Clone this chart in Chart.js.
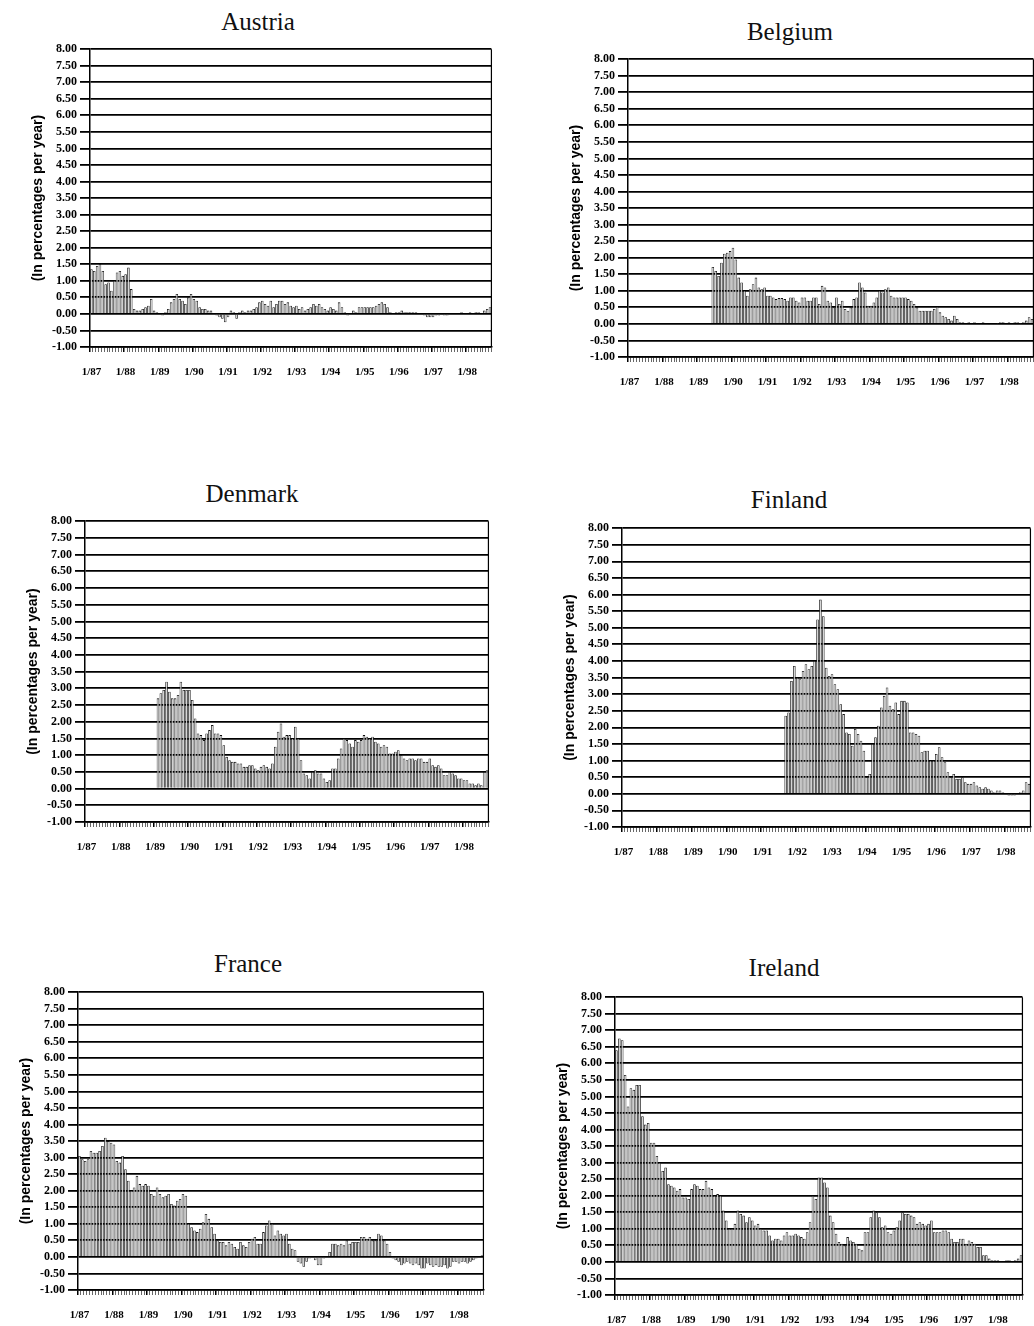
<!DOCTYPE html>
<html>
<head>
<meta charset="utf-8">
<script src="https://cdn.jsdelivr.net/npm/chart.js@4.4.1/dist/chart.umd.min.js"></script>
<style>
  body { margin: 0; background: #fff; }
  #page { position: relative; width: 1034px; height: 1326px; overflow: hidden; background: #fff; }
  .panel { position: absolute; }
  .title {
    position: absolute;
    font-family: "Liberation Serif", "DejaVu Serif", serif;
    font-size: 25px;
    color: #111;
    transform: translate(-50%, -50%);
    white-space: nowrap;
  }
</style>
</head>
<body>
<div id="page"></div>
<script>
// monthly observations, 1/87 .. 9/98
const firstYear = 87;
const monthCount = 141;

// values in percent per year (start = index of first month with data)
const austria = [
  1.35, 1.30, 1.45, 1.50, 1.30, 0.90, 0.95, 0.70, 1.00, 1.25, 1.30, 1.15,
  1.20, 1.40, 0.75, 0.15, 0.10, 0.10, 0.15, 0.20, 0.25, 0.45, 0.10, 0.05,
  0.00, -0.05, 0.05, 0.15, 0.35, 0.45, 0.60, 0.45, 0.40, 0.30, 0.50, 0.60,
  0.45, 0.40, 0.20, 0.15, 0.15, 0.10, 0.10, 0.00, -0.05, -0.10, -0.15, -0.25,
  -0.10, 0.10, 0.05, -0.15, 0.05, 0.10, 0.05, 0.10, 0.10, 0.15, 0.20, 0.35,
  0.40, 0.30, 0.25, 0.40, 0.20, 0.30, 0.40, 0.40, 0.30, 0.35, 0.25, 0.20,
  0.25, 0.15, 0.20, 0.10, 0.15, 0.20, 0.30, 0.25, 0.30, 0.20, 0.15, 0.10,
  0.20, 0.15, 0.10, 0.35, 0.20, 0.05, -0.05, 0.00, 0.10, 0.05, 0.20, 0.20,
  0.20, 0.20, 0.20, 0.20, 0.25, 0.30, 0.35, 0.30, 0.20, 0.05, 0.00, 0.05,
  0.05, 0.10, 0.05, 0.05, 0.05, 0.05, 0.05, 0.00, 0.00, -0.05, -0.10, -0.10,
  -0.10, -0.05, -0.05, 0.00, -0.05, -0.05, 0.00, 0.00, 0.00, 0.00, 0.05, 0.00,
  0.00, 0.05, 0.00, 0.05, 0.05, 0.00, 0.10, 0.15, 0.20
];
const austriaStart = 0;

const belgium = [
  1.72, 1.60, 1.45, 1.85, 2.12, 2.15, 2.20, 2.30, 1.95, 1.40, 1.25, 1.00,
  0.85, 1.05, 1.20, 1.40, 1.10, 1.05, 1.10, 0.85, 0.85, 0.80, 0.75, 0.78,
  0.78, 0.75, 0.70, 0.80, 0.80, 0.70, 0.65, 0.80, 0.80, 0.70, 0.70, 0.80,
  0.80, 0.60, 1.15, 1.10, 0.70, 0.65, 0.50, 0.80, 0.60, 0.70, 0.45, 0.40,
  0.50, 0.75, 0.80, 1.25, 1.10, 0.95, 0.55, 0.55, 0.65, 0.80, 1.00, 0.95,
  1.05, 1.10, 0.85, 0.80, 0.80, 0.80, 0.80, 0.80, 0.75, 0.70, 0.60, 0.50,
  0.40, 0.40, 0.40, 0.40, 0.40, 0.45, 0.52, 0.35, 0.25, 0.20, 0.15, 0.10,
  0.25, 0.15, 0.05, 0.05, 0.00, 0.05, 0.00, 0.05, 0.00, 0.00, 0.05, 0.00,
  -0.02, 0.00, 0.00, 0.02, 0.05, 0.05, 0.00, 0.05, 0.00, 0.05, 0.05, 0.02,
  0.05, 0.10, 0.20, 0.15
];
const belgiumStart = 29;

const denmark = [
  2.70, 2.85, 2.95, 3.20, 2.90, 2.70, 2.70, 2.80, 3.20, 2.95, 2.95, 2.95,
  2.65, 2.10, 1.65, 1.60, 1.45, 1.65, 1.75, 1.90, 1.65, 1.65, 1.60, 1.30,
  0.95, 0.85, 0.80, 0.80, 0.75, 0.75, 0.65, 0.65, 0.70, 0.70, 0.60, 0.55,
  0.65, 0.70, 0.65, 0.60, 0.75, 1.25, 1.70, 1.95, 1.55, 1.60, 1.60, 1.50,
  1.85, 1.50, 0.85, 0.45, 0.40, 0.30, 0.50, 0.55, 0.45, 0.45, 0.30, 0.20,
  0.25, 0.60, 0.60, 0.90, 1.20, 1.50, 1.45, 1.35, 1.25, 1.45, 1.40, 1.45,
  1.60, 1.55, 1.50, 1.55, 1.40, 1.35, 1.25, 1.30, 1.25, 1.05, 1.05, 1.10,
  1.15, 1.00, 0.90, 0.85, 0.90, 0.90, 0.85, 0.90, 0.90, 0.80, 0.80, 0.90,
  0.70, 0.65, 0.70, 0.60, 0.40, 0.40, 0.50, 0.45, 0.40, 0.30, 0.30, 0.25,
  0.25, 0.15, 0.15, 0.10, 0.15, 0.10, 0.50, 0.55
];
const denmarkStart = 25;

const finland = [
  2.35, 2.45, 3.40, 3.85,
  3.50, 3.45, 3.70, 3.90, 3.75, 3.85, 4.00, 5.25, 5.85, 5.35, 3.80, 3.55,
  3.60, 3.30, 3.15, 2.70, 2.40, 1.85, 1.80, 1.45, 1.95, 1.80, 1.60, 1.30,
  0.50, 0.60, 1.50, 1.70, 2.05, 2.60, 2.95, 3.20, 2.65, 2.55, 2.75, 2.40,
  2.80, 2.80, 2.75, 1.85, 1.85, 1.80, 1.75, 1.25, 1.30, 1.30, 1.00, 1.00,
  1.20, 1.40, 1.10, 0.95, 0.65, 0.50, 0.60, 0.45, 0.45, 0.50, 0.35, 0.30,
  0.30, 0.35, 0.25, 0.20, 0.15, 0.20, 0.15, 0.10, 0.05, 0.10, 0.10, 0.05,
  0.00, -0.05, -0.05, -0.05, 0.00, 0.05, 0.10, 0.35, 0.30
];
const finlandStart = 56;

const france = [
  3.05, 2.95, 2.90, 2.95, 3.20, 3.15, 3.15, 3.20, 3.35, 3.60, 3.50, 3.45,
  3.40, 2.90, 2.85, 3.05, 2.65, 2.30, 2.00, 2.10, 2.45, 2.20, 2.15, 2.20,
  2.15, 1.90, 1.85, 2.10, 1.90, 1.80, 1.85, 1.90, 1.60, 1.55, 1.70, 1.75,
  1.90, 1.85, 1.00, 0.90, 0.80, 0.75, 0.85, 1.05, 1.30, 1.15, 0.90, 0.70,
  0.50, 0.45, 0.45, 0.35, 0.45, 0.40, 0.30, 0.25, 0.45, 0.35, 0.30, 0.45,
  0.55, 0.60, 0.40, 0.40, 0.75, 0.95, 1.10, 1.00, 0.65, 0.80, 0.70, 0.65,
  0.70, 0.40, 0.25, 0.20, -0.15, -0.20, -0.30, -0.15, -0.05, 0.00, -0.10, -0.25,
  -0.25, -0.05, 0.00, 0.15, 0.40, 0.40, 0.35, 0.40, 0.35, 0.50, 0.40, 0.45,
  0.45, 0.45, 0.60, 0.60, 0.55, 0.60, 0.50, 0.50, 0.70, 0.65, 0.50, 0.40,
  0.15, -0.05, -0.10, -0.15, -0.25, -0.20, -0.15, -0.20, -0.25, -0.20, -0.25, -0.35,
  -0.35, -0.20, -0.25, -0.30, -0.25, -0.30, -0.30, -0.25, -0.35, -0.30, -0.15, -0.15,
  -0.20, -0.15, -0.15, -0.20, -0.15, -0.10, -0.05, 0.00, 0.05
];
const franceStart = 0;

const ireland = [
  6.40, 6.75, 6.70, 5.65, 4.70, 5.25, 5.20, 5.35, 5.35, 4.40, 4.15, 4.20,
  3.60, 3.60, 3.20, 3.00, 2.75, 2.85, 2.35, 2.30, 2.25, 2.15, 2.20, 1.95,
  1.95, 1.90, 2.20, 2.35, 2.30, 2.20, 2.20, 2.45, 2.25, 2.20, 2.00, 2.05,
  2.00, 1.55, 1.25, 1.00, 1.00, 1.15, 1.55, 1.45, 1.40, 1.20, 1.35, 1.25,
  1.10, 1.15, 1.00, 0.95, 0.95, 0.80, 0.65, 0.70, 0.70, 0.65, 0.80, 0.90,
  0.80, 0.80, 0.85, 0.80, 0.75, 0.70, 0.90, 1.20, 2.00, 1.90, 2.55, 2.55,
  2.40, 2.25, 1.40, 1.20, 0.85, 0.60, 0.55, 0.50, 0.75, 0.65, 0.60, 0.55,
  0.40, 0.35, 0.90, 0.90, 1.35, 1.55, 1.50, 1.35, 1.05, 1.10, 0.90, 0.85,
  0.95, 1.05, 1.25, 1.50, 1.45, 1.45, 1.40, 1.35, 1.15, 1.20, 1.15, 1.10,
  1.15, 1.25, 0.90, 0.90, 0.90, 0.95, 0.95, 0.90, 0.70, 0.60, 0.60, 0.70,
  0.70, 0.55, 0.65, 0.60, 0.55, 0.45, 0.45, 0.20, 0.20, 0.10, 0.05, 0.05,
  0.05, 0.00, 0.00, 0.05, 0.05, 0.00, 0.05, 0.10, 0.20
];
const irelandStart = 0;

const yMin = -1;
const yMax = 8;
const yStep = 0.5;
const yTitle = "(In percentages per year)";

// month labels like 1/87, 2/87 ...
const months = [];
for (let i = 0; i < monthCount; i++) {
  months.push((i % 12 + 1) + "/" + (firstYear + Math.floor(i / 12)));
}

// put a series at its first month, empty before that
function place(start, values) {
  const out = new Array(monthCount).fill(null);
  values.forEach((v, i) => { out[start + i] = v; });
  return out;
}

// chart area corners on the page for each panel
const panels = [
  { name: "Austria", data: place(austriaStart, austria), l: 90, t: 47, r: 491, b: 347, tx: 258, ty: 22 },
  { name: "Belgium", data: place(belgiumStart, belgium), l: 628, t: 57, r: 1033, b: 357, tx: 790, ty: 32 },
  { name: "Denmark", data: place(denmarkStart, denmark), l: 85, t: 519, r: 488, b: 822, tx: 252, ty: 494 },
  { name: "Finland", data: place(finlandStart, finland), l: 622, t: 526, r: 1030, b: 827, tx: 789, ty: 500 },
  { name: "France", data: place(franceStart, france), l: 78, t: 990, r: 483, b: 1290, tx: 248, ty: 964 },
  { name: "Ireland", data: place(irelandStart, ireland), l: 615, t: 995, r: 1022, b: 1295, tx: 784, ty: 968 },
];

const yAxisWidth = 64;
const xAxisHeight = 36;
const xTickPad = 14;
const padTop = 8;
const padRight = 2;
const rightSlack = xTickPad - 3; // chart.js keeps this much free right of the category axis
const tickFont = { family: "Liberation Serif", size: 12, weight: "bold" };

// right-hand frame line of the plot
const frameRight = {
  id: "frameRight",
  afterDraw(chart) {
    const { ctx, chartArea } = chart;
    ctx.save();
    ctx.strokeStyle = "#000";
    ctx.lineWidth = 1.2;
    ctx.beginPath();
    ctx.moveTo(chartArea.right, chartArea.top);
    ctx.lineTo(chartArea.right, chartArea.bottom);
    ctx.stroke();
    ctx.restore();
  },
};

const page = document.getElementById("page");

panels.forEach((p) => {
  const title = document.createElement("div");
  title.className = "title";
  title.style.left = p.tx + "px";
  title.style.top = p.ty + "px";
  title.textContent = p.name;
  page.appendChild(title);

  const left = p.l - yAxisWidth;
  const top = p.t - padTop;
  const width = p.r - left + padRight + rightSlack;
  const height = p.b + xAxisHeight - top;

  const box = document.createElement("div");
  box.className = "panel";
  box.style.left = left + "px";
  box.style.top = top + "px";
  const canvas = document.createElement("canvas");
  canvas.width = width;
  canvas.height = height;
  canvas.style.width = width + "px";
  canvas.style.height = height + "px";
  box.appendChild(canvas);
  page.appendChild(box);

  new Chart(canvas, {
    type: "bar",
    data: {
      labels: months,
      datasets: [
        {
          data: p.data,
          backgroundColor: "#d4d4d4",
          borderColor: "#111",
          borderWidth: 0.8,
          barPercentage: 0.9,
          categoryPercentage: 1,
        },
      ],
    },
    plugins: [frameRight],
    options: {
      responsive: false,
      animation: false,
      layout: { padding: { top: padTop, right: padRight, left: 0, bottom: 0 } },
      plugins: {
        legend: { display: false },
        tooltip: { enabled: false },
      },
      scales: {
        x: {
          grid: {
            drawOnChartArea: false,
            drawTicks: true,
            tickLength: 5,
            color: "#000",
            lineWidth: (c) => (c.index % 12 === 0 ? 1.5 : 0.6),
          },
          border: { display: true, color: "#000", width: 1.5 },
          ticks: {
            autoSkip: false,
            maxRotation: 0,
            minRotation: 0,
            padding: xTickPad,
            color: "#000",
            font: { family: "Liberation Serif", size: 11, weight: "bold" },
            callback: (v, i) => (months[i].startsWith("1/") ? months[i] : ""),
          },
          afterFit: (s) => { s.height = xAxisHeight; },
        },
        y: {
          min: yMin,
          max: yMax,
          ticks: {
            stepSize: yStep,
            autoSkip: false,
            padding: 3,
            color: "#000",
            font: tickFont,
            callback: (v) => Number(v).toFixed(2),
          },
          grid: { color: "#000", lineWidth: 1.8, tickLength: 10 },
          border: { display: true, color: "#000", width: 1.5 },
          title: {
            display: true,
            text: yTitle,
            color: "#000",
            font: { family: "Liberation Sans", size: 14, weight: "bold" },
          },
          afterFit: (s) => { s.width = yAxisWidth; },
        },
      },
    },
  });
});
</script>
</body>
</html>
